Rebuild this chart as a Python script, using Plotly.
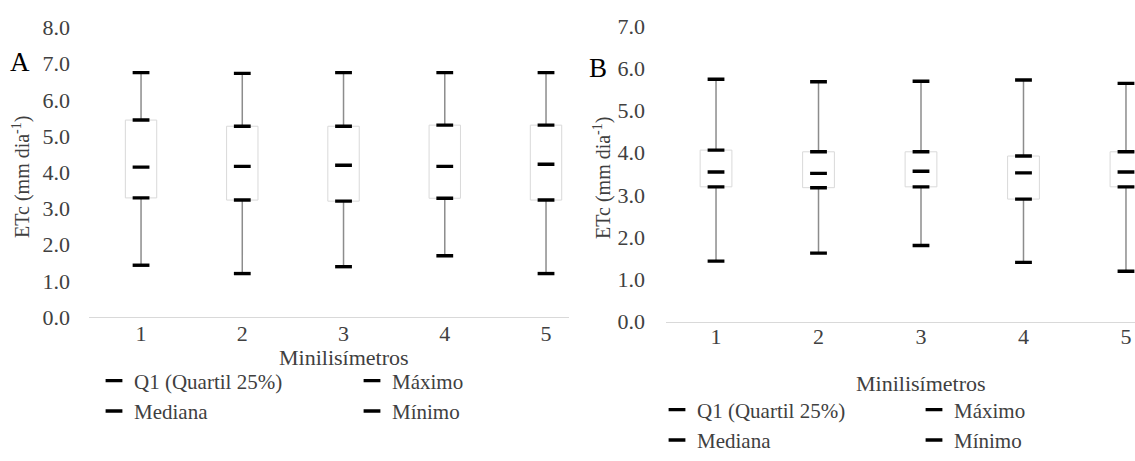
import plotly.graph_objects as go

W, H = 1135, 461

categories = [1, 2, 3, 4, 5]
tick_labels = ["1", "2", "3", "4", "5"]

# Panel A
a_min = [1.43, 1.20, 1.39, 1.69, 1.20]
a_q1 = [3.29, 3.23, 3.20, 3.28, 3.23]
a_med = [4.14, 4.16, 4.19, 4.16, 4.22]
a_q3 = [5.44, 5.27, 5.27, 5.30, 5.30]
a_max = [6.75, 6.73, 6.75, 6.75, 6.75]

# Panel B
b_min = [1.43, 1.62, 1.80, 1.40, 1.19]
b_q1 = [3.19, 3.17, 3.19, 2.90, 3.19]
b_med = [3.54, 3.51, 3.56, 3.52, 3.54]
b_q3 = [4.06, 4.02, 4.02, 3.92, 4.02]
b_max = [5.74, 5.68, 5.69, 5.72, 5.64]

FONT = "Liberation Serif"
TXT = "#404040"

fig = go.Figure()


def px_x(p):
    return p / W


def px_y(p):
    return 1 - p / H


def add_panel(xa, ya, mn, q1, med, q3, mx, leg1, leg2):
    # boxes Q1..Q3
    fig.add_trace(go.Bar(
        x=categories, y=[b - a for a, b in zip(q1, q3)], base=q1, width=0.31,
        marker=dict(color="white", line=dict(color="#d9d9d9", width=1)),
        xaxis=xa, yaxis=ya, showlegend=False, hoverinfo="skip"))
    # whiskers
    wx, wy = [], []
    for c, lo, a, b, hi in zip(categories, mn, q1, q3, mx):
        wx += [c, c, None, c, c, None]
        wy += [lo, a, None, b, hi, None]
    fig.add_trace(go.Scatter(
        x=wx, y=wy, mode="lines", line=dict(color="#8c8c8c", width=1.5),
        xaxis=xa, yaxis=ya, showlegend=False, hoverinfo="skip"))
    series = [
        ("Q1 (Quartil 25%)", q1, leg1, True),
        ("Mediana", med, leg1, True),
        ("Q3", q3, leg1, False),
        ("Máximo", mx, leg2, True),
        ("Mínimo", mn, leg2, True),
    ]
    for name, vals, leg, show in series:
        fig.add_trace(go.Scatter(
            x=categories, y=vals, mode="markers", name=name,
            marker=dict(symbol="line-ew", size=12, color="black",
                        line=dict(color="black", width=3.4)),
            xaxis=xa, yaxis=ya, legend=leg, showlegend=show))


add_panel("x", "y", a_min, a_q1, a_med, a_q3, a_max, "legend", "legend2")
add_panel("x2", "y2", b_min, b_q1, b_med, b_q3, b_max, "legend3", "legend4")

axis_font = dict(family=FONT, size=22, color=TXT)

fig.update_layout(
    width=W, height=H, autosize=False,
    margin=dict(l=0, r=0, t=0, b=0, autoexpand=False),
    paper_bgcolor="white", plot_bgcolor="white",
    font=dict(family=FONT, size=22, color=TXT),
    barmode="overlay",
    xaxis=dict(domain=[px_x(89), px_x(569)], range=[0.486, 5.227],
               tickvals=categories, ticktext=tick_labels, showgrid=False,
               zeroline=False, showline=True, linecolor="#d9d9d9", linewidth=1,
               ticks="", tickfont=axis_font, ticklabelstandoff=-3, anchor="y",
               automargin=False),
    yaxis=dict(domain=[px_y(317), px_y(27.4)], range=[0, 8], dtick=1,
               tickformat=".1f", showgrid=False, zeroline=False, showline=False,
               ticks="", tickfont=axis_font, ticklabelstandoff=18, anchor="x",
               automargin=False),
    xaxis2=dict(domain=[px_x(666), 1.0], range=[0.512, 5.088],
                tickvals=categories, ticktext=tick_labels, showgrid=False,
                zeroline=False, showline=True, linecolor="#d9d9d9", linewidth=1,
                ticks="", tickfont=axis_font, ticklabelstandoff=-5, anchor="y2",
                automargin=False),
    yaxis2=dict(domain=[px_y(321.5), px_y(26)], range=[0, 7], dtick=1,
                tickformat=".1f", showgrid=False, zeroline=False, showline=False,
                ticks="", tickfont=axis_font, ticklabelstandoff=20, anchor="x2",
                automargin=False),
)

leg_common = dict(orientation="v", bgcolor="rgba(0,0,0,0)",
                  font=dict(family=FONT, size=21, color=TXT),
                  xanchor="left", yanchor="middle", tracegroupgap=0,
                  itemwidth=30)
fig.update_layout(
    legend=dict(x=px_x(94), y=px_y(396), **leg_common),
    legend2=dict(x=px_x(352), y=px_y(396), **leg_common),
    legend3=dict(x=px_x(657), y=px_y(425), **leg_common),
    legend4=dict(x=px_x(914), y=px_y(425), **leg_common),
)

title_font = dict(family=FONT, size=20, color=TXT)
common = dict(xref="paper", yref="paper", showarrow=False,
              xanchor="center", yanchor="middle")
ann = [
    dict(text="ETc (mm dia<sup>-1</sup>)", textangle=-90, x=px_x(21), y=px_y(177),
         font=title_font, **common),
    dict(text="ETc (mm dia<sup>-1</sup>)", textangle=-90, x=px_x(602), y=px_y(178),
         font=title_font, **common),
    dict(text="Minilisímetros", x=px_x(343.5), y=px_y(357),
         font=dict(family=FONT, size=22, color=TXT), **common),
    dict(text="Minilisímetros", x=px_x(921), y=px_y(383),
         font=dict(family=FONT, size=22, color=TXT), **common),
    dict(text="A", x=px_x(20), y=px_y(62),
         font=dict(family=FONT, size=27, color="black"), **common),
    dict(text="B", x=px_x(598), y=px_y(68),
         font=dict(family=FONT, size=27, color="black"), **common),
]
fig.update_layout(annotations=ann)

fig.write_html("out.html", config={"displayModeBar": False},
               post_script="document.body.style.margin='0';")
